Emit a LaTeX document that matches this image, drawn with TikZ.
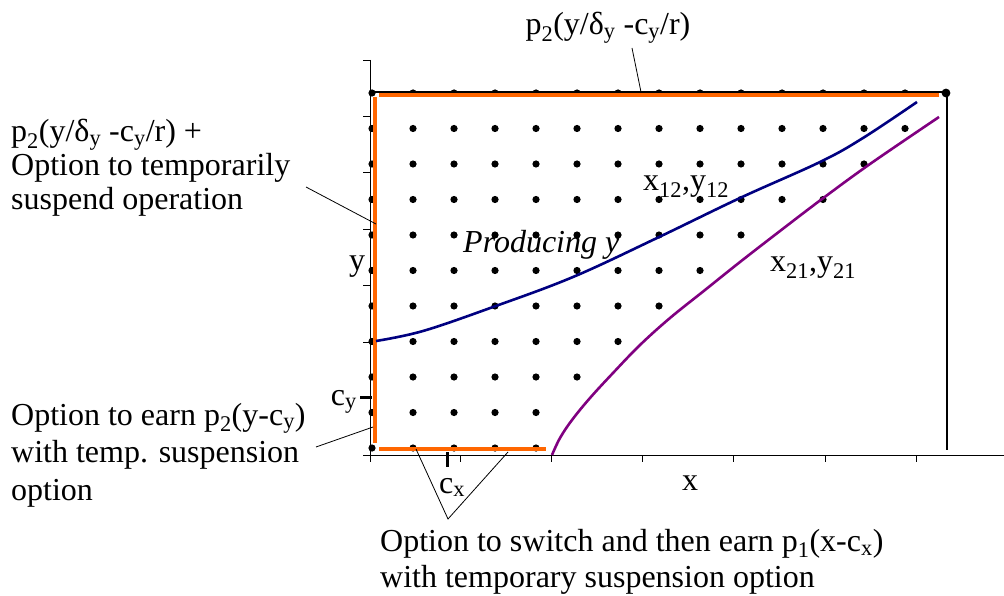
\documentclass[tikz,border=0pt]{standalone}
\usepackage{fontspec}
\setmainfont{Liberation Serif}
\usepackage{xcolor}
\definecolor{optorange}{RGB}{255,102,0}
\definecolor{curveblue}{RGB}{0,0,128}
\definecolor{curvepurple}{RGB}{128,0,128}

\begin{document}
\begin{tikzpicture}[x=1pt,y=-1pt,
  note/.style={font=\fontsize{32}{36}\selectfont,inner sep=0pt,align=left},
  lead/.style={black,line width=0.8pt},
  optline/.style={optorange,line width=4.5pt},
  curve/.style={line width=2.6pt,smooth,tension=0.6}]
\useasboundingbox (0,0) rectangle (1004,596);
% axes and ticks
\draw[line width=0.9pt] (370,60) -- (370,462);
\draw[line width=0.9pt] (370,455) -- (1004,455);
\foreach \k in {0,...,7} \draw[line width=0.9pt] (363,60+56.43*\k) -- (370,60+56.43*\k);
\foreach \k in {1,...,6} \draw[line width=0.9pt] (369+91.2*\k,455) -- (369+91.2*\k,462);
\draw[line width=2.2pt] (370,92) -- (947,92) -- (947,450);
% grid of dots left of the switching boundary
\foreach \r/\m in {0/14,1/13,2/12,3/11,4/9,5/8,6/7,7/6,8/5,9/4,10/4}
  \foreach \c in {0,...,\m} \fill (372+41*\c,93+35.5*\r) circle (3.6);
\fill (946,93) circle (4.4);
% option boundaries
\draw[optline] (375,97) -- (375,443);
\draw[optline] (379,95) -- (939,95);
\draw[optline] (379,449) -- (546,449);
% thresholds
\draw[curve,curveblue] plot coordinates {(376,341) (423,331) (493,307)
  (573,277) (657,238) (740,198) (820,162) (863,138) (917,102)};
\draw[curve,curvepurple] plot coordinates {(552,455) (560,438) (572,420) (590,398)
  (613,373) (640,345) (670,318) (705,290) (740,262) (780,231) (822,199) (870,164) (939,117)};
\draw[line width=3pt] (360,397) -- (372,397);
\draw[line width=3pt] (447,452) -- (447,467);
% labels
\node[note,anchor=base] (ptop) at (608,35) {p\textsubscript{2}(y/δ\textsubscript{y} -c\textsubscript{y}/r)};
\node[note,anchor=west,font=\fontsize{32}{34}\selectfont] (psusp) at (11,168)
  {p\textsubscript{2}(y/δ\textsubscript{y} -c\textsubscript{y}/r) +\\Option to temporarily\\suspend operation};
\node[note,anchor=west,font=\fontsize{32}{37.5}\selectfont] (pearn) at (11,455)
  {Option to earn p\textsubscript{2}(y-c\textsubscript{y})\\with temp. suspension\\option};
\node[note,anchor=west] (pswitch) at (380,562)
  {Option to switch and then earn p\textsubscript{1}(x-c\textsubscript{x})\\with temporary suspension option};
\node[note,anchor=base] (ylab) at (357,270) {y};
\node[note,anchor=base] (xlab) at (690,490) {x};
\node[note,anchor=base east] (cylab) at (357,405) {c\textsubscript{y}};
\node[note,anchor=base west] (cxlab) at (439,493) {c\textsubscript{x}};
\node[note,anchor=base west,font=\fontsize{32}{36}\selectfont\itshape] (prod) at (463,253) {Producing y};
\node[note,anchor=base west] (b12) at (643,191) {x\textsubscript{12},y\textsubscript{12}};
\node[note,anchor=base west] (b21) at (770,272) {x\textsubscript{21},y\textsubscript{21}};
% leader lines
\coordinate (topend) at (641,92);
\coordinate (suspend) at (376,224);
\coordinate (earnend) at (373,427);
\coordinate (swa) at (416,449);
\coordinate (swb) at (508,452);
\coordinate (swv) at (448,519);
\draw[lead] (632,48) -- (topend);
\draw[lead] (306,187) -- (suspend);
\draw[lead] (316,447) -- (earnend);
\draw[lead] (swa) -- (swv) -- (swb);
\end{tikzpicture}
\end{document}
